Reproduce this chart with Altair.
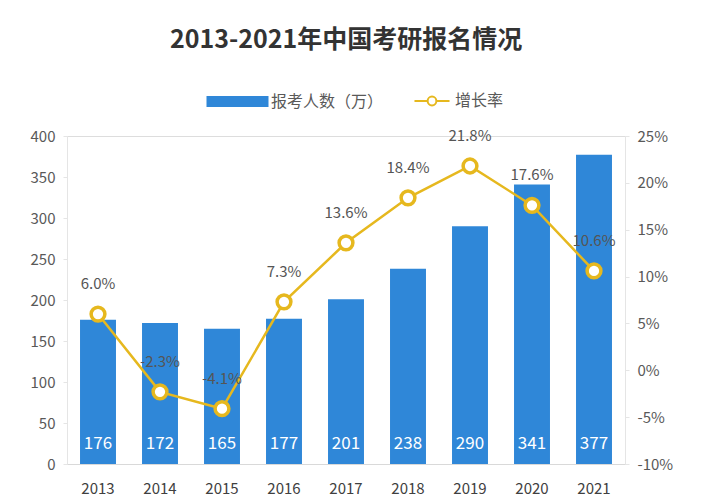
import altair as alt
import pandas as pd

years = ["2013", "2014", "2015", "2016", "2017", "2018", "2019", "2020", "2021"]
applicants = [176, 172, 165, 177, 201, 238, 290, 341, 377]
growth = [6.0, -2.3, -4.1, 7.3, 13.6, 18.4, 21.8, 17.6, 10.6]

bar_name = "报考人数（万）"
line_name = "增长率"

df = pd.DataFrame({
    "year": years,
    "applicants": applicants,
    "growth": growth,
    "bar_s": bar_name,
    "line_s": line_name,
})
df["glabel"] = [f"{g:.1f}%" for g in growth]

FONT = "Noto Sans CJK SC"
BLUE = "#2F87D8"
YELLOW = "#E6B81E"
GREY = "#595959"

x = alt.X("year:N", title=None,
          scale=alt.Scale(paddingInner=0.42, paddingOuter=0.21),
          axis=alt.Axis(labelAngle=0, ticks=False, domainColor="#d9d9d9",
                        labelFontSize=15, labelColor="#404040", labelPadding=17))

bars = alt.Chart(df).mark_bar(color=BLUE).encode(
    x=x,
    y=alt.Y("applicants:Q", title=None,
            scale=alt.Scale(domain=[0, 400]),
            axis=alt.Axis(values=[0, 50, 100, 150, 200, 250, 300, 350, 400],
                          grid=False, domainColor="#e5e5e5", tickColor="#e5e5e5",
                          tickSize=4, labelFontSize=15, labelColor=GREY, labelPadding=8)),
    fill=alt.Fill("bar_s:N", title=None,
                  scale=alt.Scale(domain=[bar_name], range=[BLUE]),
                  legend=alt.Legend(symbolType="M-2.5,-0.45H2.5V0.45H-2.5Z", symbolSize=615,
                                    symbolStrokeWidth=0, labelFontSize=16, labelColor=GREY,
                                    labelFont=FONT, labelOffset=21, padding=0,
                                    orient="none", legendX=158, legendY=-47)),
)

bar_text = alt.Chart(df).mark_text(color="white", fontSize=17, font=FONT, dy=-20).encode(
    x=x,
    y=alt.datum(0),
    text=alt.Text("applicants:Q"),
)

left = alt.layer(bars, bar_text)

yr = alt.Y("growth:Q", title=None,
           scale=alt.Scale(domain=[-10, 25]),
           axis=alt.Axis(orient="right", values=[-10, -5, 0, 5, 10, 15, 20, 25],
                         labelExpr="datum.value + '%'", grid=False,
                         domainColor="#e5e5e5", tickColor="#e5e5e5", tickSize=4,
                         labelFontSize=15, labelColor=GREY, labelPadding=8))

line = alt.Chart(df).mark_line(strokeWidth=2.5).encode(
    x=x,
    y=yr,
    stroke=alt.Stroke("line_s:N", title=None,
                      scale=alt.Scale(domain=[line_name], range=[YELLOW]),
                      legend=alt.Legend(
                          symbolType="M-1.6,0H-0.4M0.4,0H1.6M0.4,0A0.4,0.4 0 1 1 -0.4,0A0.4,0.4 0 1 1 0.4,0",
                          symbolSize=480, symbolStrokeWidth=2, symbolFillColor="white",
                          labelFontSize=16, labelColor=GREY, labelFont=FONT,
                          labelOffset=11, padding=0,
                          orient="none", legendX=353, legendY=-47)),
)

points = alt.Chart(df).mark_point(filled=True, fill="white", stroke=YELLOW,
                                  strokeWidth=3.5, size=190, opacity=1).encode(
    x=x,
    y=yr,
)

line_text = alt.Chart(df).mark_text(color="#555555", fontSize=15, font=FONT, dy=-30).encode(
    x=x,
    y=yr,
    text="glabel:N",
)

right = alt.layer(line, points, line_text)

chart = alt.layer(left, right).resolve_scale(y="independent").properties(
    width=558,
    height=328,
    padding={"left": 22, "top": 20, "right": 10, "bottom": 5},
    title=alt.TitleParams("2013-2021年中国考研报名情况", fontSize=25, font=FONT,
                          fontWeight="bold", color="#333333", anchor="middle", offset=36),
).configure_view(stroke=None).configure(font=FONT)

chart.save("out.html", embed_options={"renderer": "svg", "actions": False})
